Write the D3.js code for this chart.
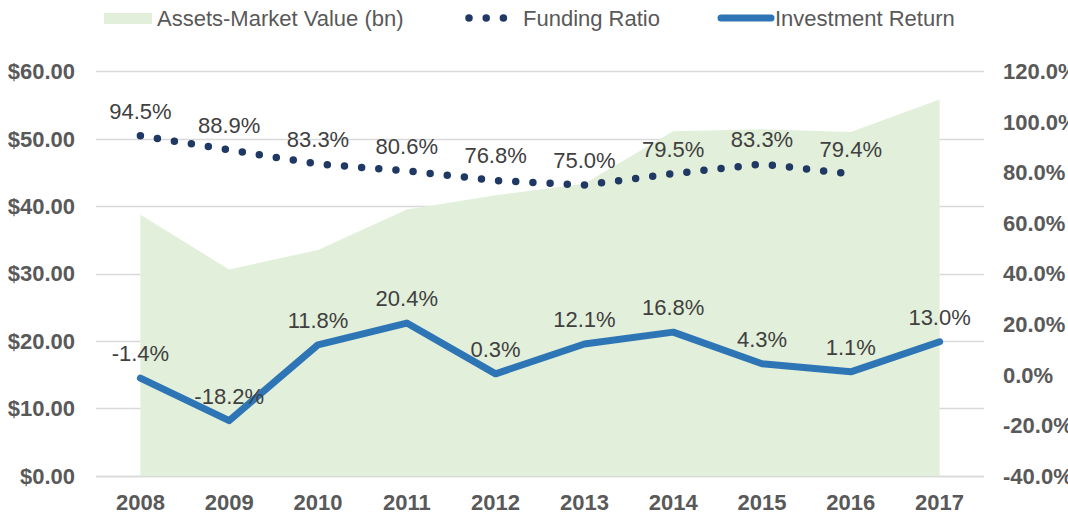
<!DOCTYPE html>
<html>
<head>
<meta charset="utf-8">
<script src="https://cdn.jsdelivr.net/npm/d3@7"></script>
<style>
  body { margin: 0; background: #fff; }
  svg { display: block; font-family: "Liberation Sans", Arial, sans-serif; }
</style>
</head>
<body>
<div id="chart"></div>
<script>
// data
var years = ["2008", "2009", "2010", "2011", "2012", "2013", "2014", "2015", "2016", "2017"];
var assets = [38.7, 30.6, 33.5, 39.5, 41.6, 43.3, 51.1, 51.4, 51.0, 55.8];
var fundingRatio = [94.5, 88.9, 83.3, 80.6, 76.8, 75.0, 79.5, 83.3, 79.4];
var investReturn = [-1.4, -18.2, 11.8, 20.4, 0.3, 12.1, 16.8, 4.3, 1.1, 13.0];
var leftTicks = [0, 10, 20, 30, 40, 50, 60];
var rightTicks = [-40, -20, 0, 20, 40, 60, 80, 100, 120];

var width = 1068, height = 514;
var plotLeft = 96, plotRight = 984, plotTop = 71.3, plotBottom = 475.7;

var svg = d3.select("#chart").append("svg")
    .attr("width", width)
    .attr("height", height);

var x = d3.scaleBand().domain(years).range([plotLeft, plotRight]);
var yL = d3.scaleLinear().domain([0, 60]).range([plotBottom, plotTop]);
var yR = d3.scaleLinear().domain([-40, 120]).range([plotBottom, plotTop]);
var cx = function (d, i) { return x(years[i]) + x.bandwidth() / 2; };

// gridlines
svg.append("g")
    .selectAll("line")
    .data(leftTicks)
    .enter().append("line")
    .attr("x1", plotLeft).attr("x2", plotRight)
    .attr("y1", function (d) { return Math.round(yL(d)) + 0.5; })
    .attr("y2", function (d) { return Math.round(yL(d)) + 0.5; })
    .attr("stroke", "#d9d9d9")
    .attr("stroke-width", 1.3);

// assets area
var area = d3.area()
    .x(cx)
    .y0(yL(0))
    .y1(function (d) { return yL(d); });

svg.append("path")
    .datum(assets)
    .attr("d", area)
    .attr("fill", "#e2efda");

// bottom gridline again on top of area
svg.append("line")
    .attr("x1", plotLeft).attr("x2", plotRight)
    .attr("y1", Math.round(yL(0)) + 0.5).attr("y2", Math.round(yL(0)) + 0.5)
    .attr("stroke", "#d9d9d9").attr("stroke-width", 1.3);

// funding ratio dotted line
var lineR = d3.line()
    .x(cx)
    .y(function (d) { return yR(d); });

svg.append("path")
    .datum(fundingRatio)
    .attr("d", lineR)
    .attr("fill", "none")
    .attr("stroke", "#1f3864")
    .attr("stroke-width", 7.5)
    .attr("stroke-linecap", "round")
    .attr("stroke-dasharray", "0 17.2");

// investment return line
svg.append("path")
    .datum(investReturn)
    .attr("d", lineR)
    .attr("fill", "none")
    .attr("stroke", "#2e75b6")
    .attr("stroke-width", 7)
    .attr("stroke-linejoin", "round")
    .attr("stroke-linecap", "round");

// data labels
function addLabels(values) {
    svg.append("g")
        .selectAll("text")
        .data(values)
        .enter().append("text")
        .attr("x", cx)
        .attr("y", function (d) { return yR(d) - 17; })
        .attr("text-anchor", "middle")
        .attr("fill", "#404040")
        .style("font-size", "22px")
        .text(function (d) { return d.toFixed(1) + "%"; });
}
addLabels(fundingRatio);
addLabels(investReturn);

// left axis
svg.append("g")
    .selectAll("text")
    .data(leftTicks)
    .enter().append("text")
    .attr("x", 75)
    .attr("y", function (d) { return yL(d); })
    .attr("dy", "0.36em")
    .attr("text-anchor", "end")
    .attr("fill", "#595959")
    .style("font-size", "22px")
    .style("font-weight", "bold")
    .text(function (d) { return "$" + d.toFixed(2); });

// right axis
svg.append("g")
    .selectAll("text")
    .data(rightTicks)
    .enter().append("text")
    .attr("x", 1003)
    .attr("y", function (d) { return yR(d); })
    .attr("dy", "0.36em")
    .attr("fill", "#595959")
    .style("font-size", "22px")
    .style("font-weight", "bold")
    .text(function (d) { return d.toFixed(1) + "%"; });

// x axis
svg.append("g")
    .selectAll("text")
    .data(years)
    .enter().append("text")
    .attr("x", function (d) { return x(d) + x.bandwidth() / 2; })
    .attr("y", 510)
    .attr("text-anchor", "middle")
    .attr("fill", "#595959")
    .style("font-size", "22px")
    .style("font-weight", "bold")
    .text(function (d) { return d; });

// legend
var legend = svg.append("g").style("font-size", "22px").attr("fill", "#595959");

legend.append("rect")
    .attr("x", 104).attr("y", 13)
    .attr("width", 48).attr("height", 11)
    .attr("fill", "#e2efda");
legend.append("text").attr("x", 157).attr("y", 18).attr("dy", "0.36em")
    .text("Assets-Market Value (bn)");

legend.append("line")
    .attr("x1", 469).attr("x2", 506).attr("y1", 18).attr("y2", 18)
    .attr("stroke", "#1f3864").attr("stroke-width", 7.5)
    .attr("stroke-linecap", "round").attr("stroke-dasharray", "0 17.2");
legend.append("text").attr("x", 523).attr("y", 18).attr("dy", "0.36em")
    .text("Funding Ratio");

legend.append("line")
    .attr("x1", 721).attr("x2", 771).attr("y1", 18).attr("y2", 18)
    .attr("stroke", "#2e75b6").attr("stroke-width", 7)
    .attr("stroke-linecap", "round");
legend.append("text").attr("x", 775).attr("y", 18).attr("dy", "0.36em")
    .text("Investment Return");
</script>
</body>
</html>
